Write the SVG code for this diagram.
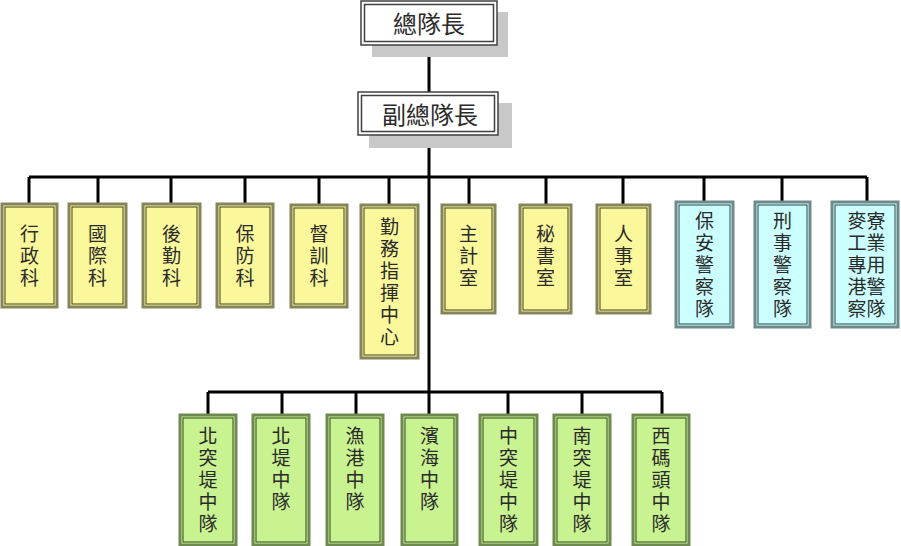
<svg xmlns="http://www.w3.org/2000/svg" width="901" height="546" viewBox="0 0 901 546">
<style>
.bg{fill:#ffffff}
.shadow{fill:#c8c8c8}
.top-o{fill:#ffffff;stroke:#404040;stroke-width:1.5}
.top-i{fill:none;stroke:#404040;stroke-width:1.5}
.y-o{fill:#fbf89c;stroke:#85845a;stroke-width:3}
.y-i{fill:none;stroke:#3f3f22;stroke-width:1}
.c-o{fill:#ccffff;stroke:#6e8a8a;stroke-width:3}
.c-i{fill:none;stroke:#2f4545;stroke-width:1}
.g-o{fill:#c9f291;stroke:#6f8a50;stroke-width:3}
.g-i{fill:none;stroke:#2f4520;stroke-width:1}
.t{font-family:"Noto Sans CJK TC","Noto Sans CJK SC",sans-serif;font-size:19px;fill:#2a2a2a;writing-mode:vertical-rl;letter-spacing:3px}
.tb{font-family:"Noto Sans CJK TC","Noto Sans CJK SC",sans-serif;font-size:24px;fill:#2a2a2a;text-anchor:middle}
.conn{stroke:#000;stroke-width:3;fill:none}
</style>
<rect class="bg" x="0" y="0" width="901" height="546"/>

<g id="connectors">
<path class="conn" d="M429 45V92M429 135V392M29 177H867M29 177V204M98 177V204M171 177V204M245 177V204M319 177V205M389 177V205M469 177V205M546 177V205M623 177V205M704 177V202M782 177V202M867 177V202M208 392H662M208 392V415M282 392V415M356 392V415M508 392V415M582 392V415M662 392V415M429 392V415"/>
</g>

<g id="n-chief">
<rect class="shadow" x="372" y="12" width="136" height="45"/>
<rect class="top-o" x="361" y="1" width="136" height="44"/>
<rect class="top-i" x="364.5" y="4.5" width="129" height="37"/>
<text class="tb" x="429" y="33">總隊長</text>
</g>

<g id="n-deputy">
<rect class="shadow" x="369" y="103" width="143" height="45"/>
<rect class="top-o" x="358" y="92" width="140" height="43"/>
<rect class="top-i" x="361.5" y="95.5" width="133" height="36"/>
<text class="tb" x="430" y="124">副總隊長</text>
</g>

<g id="n1">
<rect class="y-o" x="2" y="204" width="55" height="103"/>
<rect class="y-i" x="5" y="207" width="49" height="97"/>
<text class="t" x="29.5" y="224">行政科</text>
</g>
<g id="n2">
<rect class="y-o" x="69" y="204" width="57" height="103"/>
<rect class="y-i" x="72" y="207" width="51" height="97"/>
<text class="t" x="97.5" y="224">國際科</text>
</g>
<g id="n3">
<rect class="y-o" x="143" y="204" width="57" height="103"/>
<rect class="y-i" x="146" y="207" width="51" height="97"/>
<text class="t" x="171.5" y="224">後勤科</text>
</g>
<g id="n4">
<rect class="y-o" x="217" y="204" width="56" height="103"/>
<rect class="y-i" x="220" y="207" width="50" height="97"/>
<text class="t" x="245" y="224">保防科</text>
</g>
<g id="n5">
<rect class="y-o" x="291" y="205" width="56" height="102"/>
<rect class="y-i" x="294" y="208" width="50" height="96"/>
<text class="t" x="319" y="224">督訓科</text>
</g>
<g id="n6">
<rect class="y-o" x="361" y="205" width="57" height="153"/>
<rect class="y-i" x="364" y="208" width="51" height="147"/>
<text class="t" x="389.5" y="217">勤務指揮中心</text>
</g>
<g id="n7">
<rect class="y-o" x="442" y="205" width="53" height="108"/>
<rect class="y-i" x="445" y="208" width="47" height="102"/>
<text class="t" x="468.5" y="224">主計室</text>
</g>
<g id="n8">
<rect class="y-o" x="520" y="205" width="51" height="108"/>
<rect class="y-i" x="523" y="208" width="45" height="102"/>
<text class="t" x="545.5" y="224">秘書室</text>
</g>
<g id="n9">
<rect class="y-o" x="597" y="205" width="53" height="108"/>
<rect class="y-i" x="600" y="208" width="47" height="102"/>
<text class="t" x="623.5" y="224">人事室</text>
</g>
<g id="n10">
<rect class="c-o" x="676" y="202" width="57" height="125"/>
<rect class="c-i" x="679" y="205" width="51" height="119"/>
<text class="t" x="704.5" y="211">保安警察隊</text>
</g>
<g id="n11">
<rect class="c-o" x="755" y="202" width="55" height="125"/>
<rect class="c-i" x="758" y="205" width="49" height="119"/>
<text class="t" x="782.5" y="211">刑事警察隊</text>
</g>
<g id="n12">
<rect class="c-o" x="832" y="202" width="66" height="125"/>
<rect class="c-i" x="835" y="205" width="60" height="119"/>
<text class="t" x="857" y="211">麥工專港察</text>
<text class="t" x="876" y="211">寮業用警隊</text>
</g>

<g id="b1">
<rect class="g-o" x="180" y="415" width="56" height="130"/>
<rect class="g-i" x="183" y="418" width="50" height="124"/>
<text class="t" x="208" y="426">北突堤中隊</text>
</g>
<g id="b2">
<rect class="g-o" x="253" y="415" width="56" height="130"/>
<rect class="g-i" x="256" y="418" width="50" height="124"/>
<text class="t" x="281" y="426">北堤中隊</text>
</g>
<g id="b3">
<rect class="g-o" x="327" y="415" width="56" height="130"/>
<rect class="g-i" x="330" y="418" width="50" height="124"/>
<text class="t" x="355" y="426">漁港中隊</text>
</g>
<g id="b4">
<rect class="g-o" x="402" y="415" width="55" height="130"/>
<rect class="g-i" x="405" y="418" width="49" height="124"/>
<text class="t" x="429.5" y="426">濱海中隊</text>
</g>
<g id="b5">
<rect class="g-o" x="480" y="415" width="57" height="130"/>
<rect class="g-i" x="483" y="418" width="51" height="124"/>
<text class="t" x="508.5" y="426">中突堤中隊</text>
</g>
<g id="b6">
<rect class="g-o" x="554" y="415" width="56" height="130"/>
<rect class="g-i" x="557" y="418" width="50" height="124"/>
<text class="t" x="582" y="426">南突堤中隊</text>
</g>
<g id="b7">
<rect class="g-o" x="633" y="415" width="56" height="130"/>
<rect class="g-i" x="636" y="418" width="50" height="124"/>
<text class="t" x="661" y="426">西碼頭中隊</text>
</g>
</svg>
